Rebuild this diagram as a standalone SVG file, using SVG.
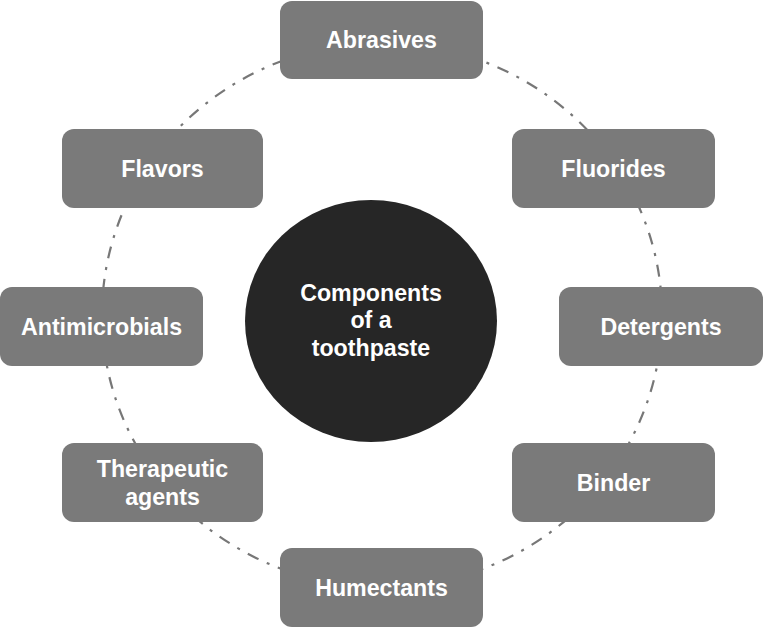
<svg xmlns="http://www.w3.org/2000/svg" width="763" height="628" viewBox="0 0 763 628">
<style>
.box{fill:#7a7a7a}
.lbl{font-family:"Liberation Sans",Arial,sans-serif;font-weight:bold;font-size:23.2px;fill:#ffffff;text-anchor:middle}
.ring{fill:none;stroke:#777777;stroke-width:2.2;stroke-dasharray:12 9 3 9}
</style>
<rect width="763" height="628" fill="#ffffff"/>
<g id="connectors">
<ellipse class="ring" cx="382" cy="315" rx="280" ry="272"/>
</g>
<g id="center">
<ellipse cx="371" cy="321" rx="126" ry="121" fill="#262626"/>
<text class="lbl" x="371" y="301">Components</text>
<text class="lbl" x="371" y="328">of a</text>
<text class="lbl" x="371" y="356">toothpaste</text>
</g>
<g id="abrasives"><rect class="box" x="280" y="1" width="203" height="78" rx="12"/><text class="lbl" x="381.5" y="48">Abrasives</text></g>
<g id="fluorides"><rect class="box" x="512" y="129" width="203" height="79" rx="12"/><text class="lbl" x="613.5" y="177">Fluorides</text></g>
<g id="detergents"><rect class="box" x="559" y="287" width="204" height="79" rx="12"/><text class="lbl" x="661" y="335">Detergents</text></g>
<g id="binder"><rect class="box" x="512" y="443" width="203" height="79" rx="12"/><text class="lbl" x="613.5" y="491">Binder</text></g>
<g id="humectants"><rect class="box" x="280" y="548" width="203" height="79" rx="12"/><text class="lbl" x="381.5" y="596">Humectants</text></g>
<g id="therapeutic"><rect class="box" x="62" y="443" width="201" height="79" rx="12"/><text class="lbl" x="162.5" y="477">Therapeutic</text><text class="lbl" x="162.5" y="505">agents</text></g>
<g id="antimicrobials"><rect class="box" x="0" y="287" width="203" height="79" rx="12"/><text class="lbl" x="101.5" y="335">Antimicrobials</text></g>
<g id="flavors"><rect class="box" x="62" y="129" width="201" height="79" rx="12"/><text class="lbl" x="162.5" y="177">Flavors</text></g>
</svg>
